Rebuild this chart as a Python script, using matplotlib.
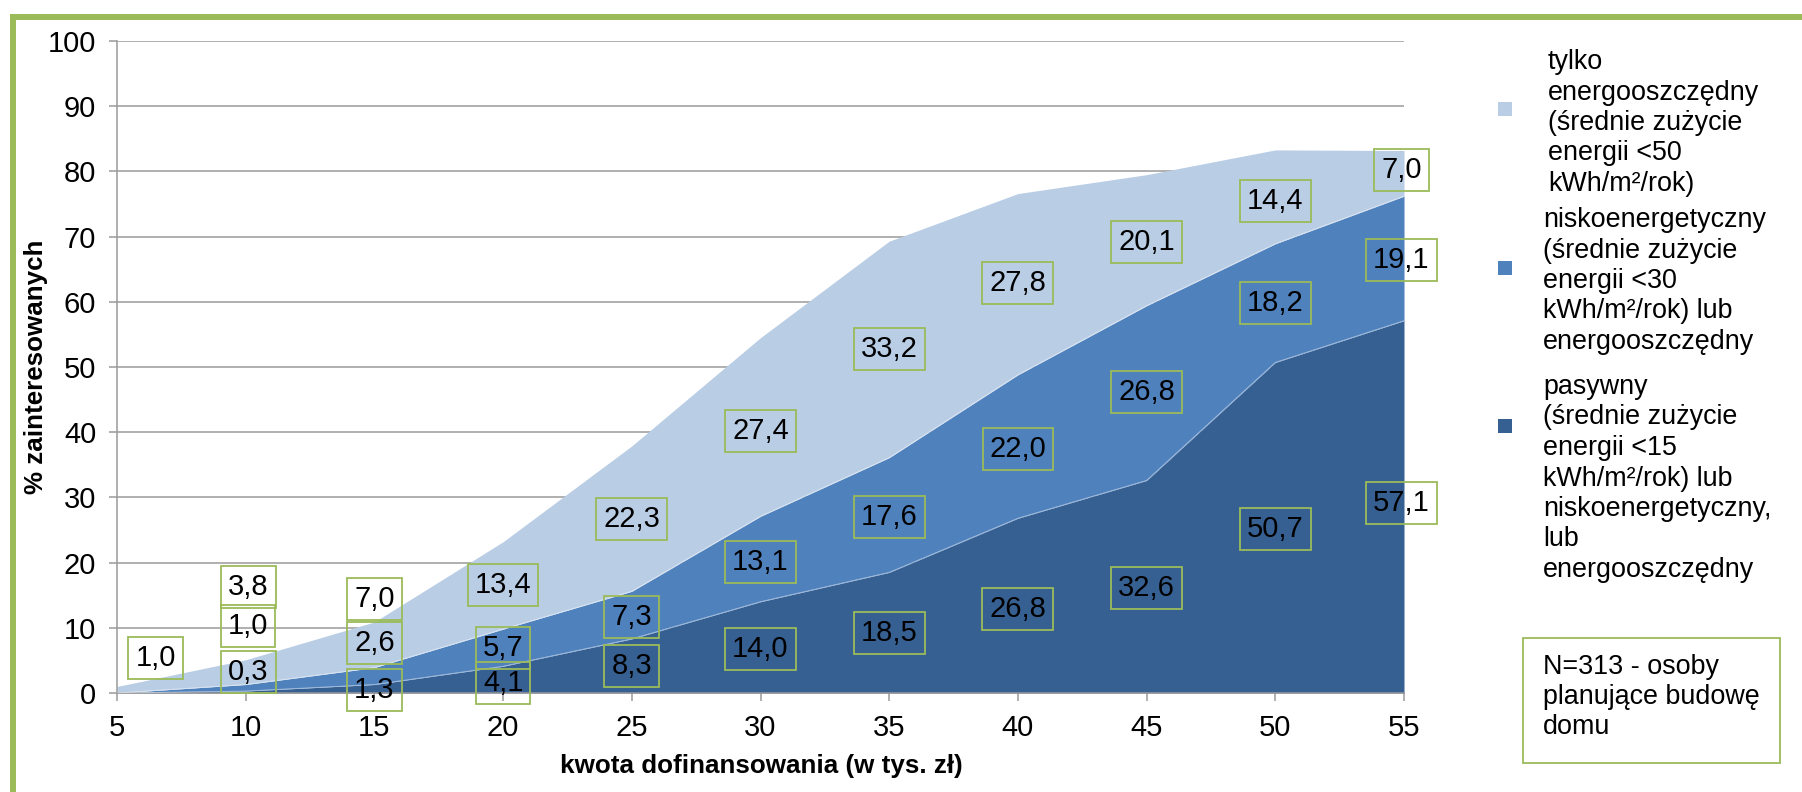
import matplotlib
matplotlib.use("Agg")
import numpy as np
import matplotlib.pyplot as plt
from matplotlib.patches import Rectangle
from matplotlib.lines import Line2D

plt.rcParams['font.family'] = ['Liberation Sans', 'DejaVu Sans']

# kwota dofinansowania (tys. zł)
kwota = [5, 10, 15, 20, 25, 30, 35, 40, 45, 50, 55]

# % zainteresowanych wg typu domu (warstwy skumulowane)
pasywny = [0.0, 0.3, 1.3, 4.1, 8.3, 14.0, 18.5, 26.8, 32.6, 50.7, 57.1]
niskoenergetyczny = [0.0, 1.0, 2.6, 5.7, 7.3, 13.1, 17.6, 22.0, 26.8, 18.2, 19.1]
energooszczedny = [1.0, 3.8, 7.0, 13.4, 22.3, 27.4, 33.2, 27.8, 20.1, 14.4, 7.0]

y_ticks = [0, 10, 20, 30, 40, 50, 60, 70, 80, 90, 100]

legend_ene = ["tylko", "energooszczędny", "(średnie zużycie", "energii <50", "kWh/m²/rok)"]
legend_nis = ["niskoenergetyczny", "(średnie zużycie", "energii <30", "kWh/m²/rok) lub",
              "energooszczędny"]
legend_pas = ["pasywny", "(średnie zużycie", "energii <15", "kWh/m²/rok) lub",
              "niskoenergetyczny,", "lub", "energooszczędny"]
note_lines = ["N=313 - osoby", "planujące budowę", "domu"]

# heights at which value labels sit inside each band
lab_y_pas = [None, 3.2, 0.5, 1.5, 4.1, 6.7, 9.2, 12.9, 16.1, 25.2, 29.1]
lab_y_nis = [None, 10.3, 7.7, 6.9, 11.7, 20.1, 27.0, 37.4, 46.2, 59.8, 66.4]
lab_y_ene = [5.4, 16.3, 14.4, 16.6, 26.7, 40.2, 52.7, 62.9, 69.1, 75.4, 80.2]
lab_dx = [1.5, 0.1, 0.0, 0.0, 0.0, 0.0, 0.0, 0.0, 0.0, 0.0, -0.1]

C_DARK = "#376092"
C_MID = "#4F81BD"
C_LIGHT = "#B9CDE5"
GREEN = "#9BBB59"
GRID = "#9A9A9A"

W, H = 1802, 792
fig = plt.figure(figsize=(W / 100, H / 100), dpi=100)
fig.patch.set_facecolor("white")

ax = fig.add_axes([117 / W, 1 - 693 / H, (1404 - 117) / W, (693 - 41) / H])

x = np.array(kwota, dtype=float)
p = np.array(pasywny)
n = np.array(niskoenergetyczny)
e = np.array(energooszczedny)
b1 = p
b2 = p + n
b3 = b2 + e

ax.fill_between(x, 0, b1, color=C_DARK, lw=0, zorder=2)
ax.fill_between(x, b1, b2, color=C_MID, lw=0, zorder=2)
ax.fill_between(x, b2, b3, color=C_LIGHT, lw=0, zorder=2)
ax.plot(x, b1, color="white", lw=0.6, alpha=0.5, zorder=3)
ax.plot(x, b2, color="white", lw=0.6, alpha=0.5, zorder=3)

ax.set_xlim(5, 55)
ax.set_ylim(0, 100)
ax.set_xticks(kwota)
ax.set_yticks(y_ticks)
ax.set_axisbelow(True)
ax.yaxis.grid(True, color=GRID, lw=1.1)
ax.xaxis.grid(False)
for s in ("top", "right"):
    ax.spines[s].set_visible(False)
for s in ("left", "bottom"):
    ax.spines[s].set_color(GRID)
    ax.spines[s].set_linewidth(1.1)
ax.tick_params(axis="y", direction="out", length=6, width=1.1, color=GRID, pad=9,
               labelsize=21)
ax.tick_params(axis="x", direction="out", length=6, width=1.1, color=GRID, pad=9,
               labelsize=21)
ax.set_facecolor("white")

ax.set_ylabel("% zainteresowanych", fontsize=18.7, fontweight="bold", va="center")
ax.yaxis.set_label_coords(-0.0630, 0.5)
ax.set_xlabel("kwota dofinansowania (w tys. zł)", fontsize=18.7, fontweight="bold",
              va="center")
ax.xaxis.set_label_coords(0.501, -0.112)


def fmt(v):
    return f"{v:.1f}".replace(".", ",")


box = dict(boxstyle="square,pad=0.24", fc="none", ec=GREEN, lw=1.3)
for i, xv in enumerate(kwota):
    for vals, ys in ((pasywny, lab_y_pas), (niskoenergetyczny, lab_y_nis),
                     (energooszczedny, lab_y_ene)):
        if ys[i] is None:
            continue
        ax.text(xv + lab_dx[i], ys[i], fmt(vals[i]), ha="center", va="center",
                fontsize=21, color="black", bbox=box, zorder=5, clip_on=False)

# overlay in pixel coordinates for legend, note box and frame
ov = fig.add_axes([0, 0, 1, 1], zorder=10)
ov.set_xlim(0, W)
ov.set_ylim(H, 0)
ov.axis("off")

# green frame
ov.add_line(Line2D([13, 13], [17, H + 10], color=GREEN, lw=4.3, solid_capstyle="butt"))
ov.add_line(Line2D([10, W + 10], [17, 17], color=GREEN, lw=4.3, solid_capstyle="butt"))

# legend
legend_blocks = [
    (C_LIGHT, 109, 1548, legend_ene, 69),
    (C_MID, 268, 1543, legend_nis, 227),
    (C_DARK, 426, 1543, legend_pas, 394),
]
for col, sq_y, tx, lines, base in legend_blocks:
    ov.add_patch(Rectangle((1498, sq_y - 7), 14, 14, color=col, lw=0))
    for k, line in enumerate(lines):
        ov.text(tx, base + k * 30.5, line, ha="left", va="baseline", fontsize=19.4,
                color="black")

# sample note box
ov.add_patch(Rectangle((1523, 638), 1780 - 1523, 763 - 638, fc="none", ec=GREEN, lw=1.3))
for k, line in enumerate(note_lines):
    ov.text(1543, 674 + k * 30, line, ha="left", va="baseline", fontsize=19.4,
            color="black")

fig.savefig("out.png", dpi=100)
